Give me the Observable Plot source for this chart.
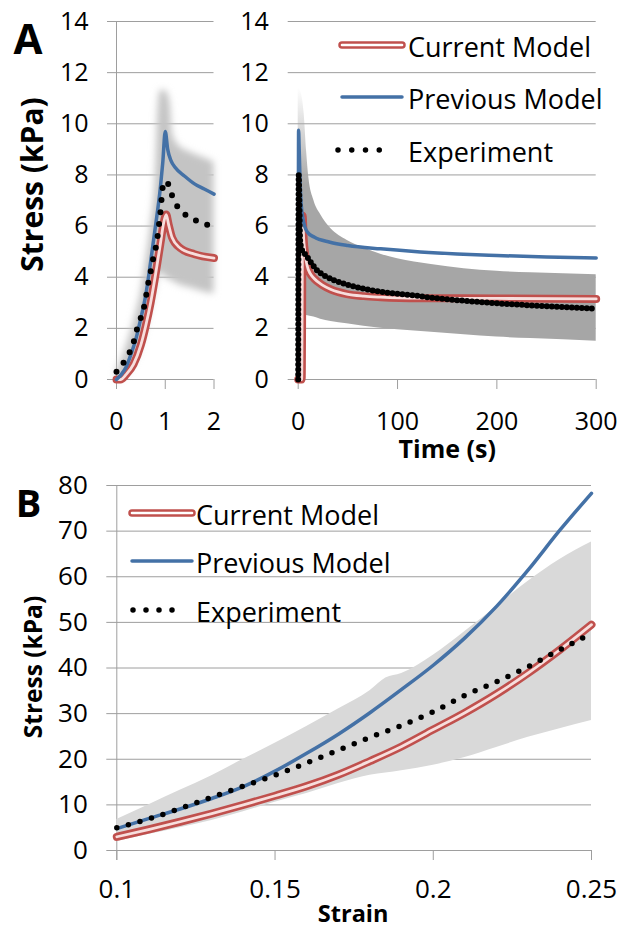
<!DOCTYPE html>
<html>
<head>
<meta charset="utf-8">
<script src="https://cdn.jsdelivr.net/npm/d3@7"></script>
<script src="https://cdn.jsdelivr.net/npm/@observablehq/plot@0.6"></script>
<style>
  html, body { margin: 0; padding: 0; background: #fff; }
  #root { position: relative; width: 621px; height: 928px; overflow: hidden; font-family: "Open Sans", sans-serif; }
  #root svg { position: absolute; max-width: none; }
</style>
</head>
<body>
<div id="root"></div>
<script>
// ---------------- DATA ----------------
const legendLabels = ["Current Model", "Previous Model", "Experiment"];

// Panel A — ramp phase (time 0–2 s): [time, stress kPa]
const rampTimeTicks = [0, 1, 2];
const stressTicksA = [0, 2, 4, 6, 8, 10, 12, 14];
const rampCurrent = [[0,0],[0.08,0],[0.2,0.2],[0.35,0.6],[0.5,1.35],[0.6,2.1],[0.7,3.0],[0.8,4.1],[0.9,5.3],[0.97,6.15],[1.02,6.45],[1.07,6.05],[1.14,5.55],[1.3,5.15],[1.6,4.9],[2,4.75]];
const rampPrevious = [[0,0],[0.1,0.2],[0.2,0.5],[0.3,1.0],[0.4,1.6],[0.5,2.4],[0.6,3.3],[0.7,4.6],[0.8,6.0],[0.9,7.5],[0.95,8.5],[1.0,9.7],[1.05,9.0],[1.12,8.55],[1.2,8.3],[1.4,7.95],[1.6,7.65],[1.8,7.45],[2.0,7.25]];
const rampExperiment = [[0,0.3],[0.05,0.35],[0.1,0.5],[0.2,0.87],[0.32,1.26],[0.42,1.97],[0.49,2.36],[0.56,2.8],[0.61,3.3],[0.66,3.86],[0.71,4.3],[0.76,4.8],[0.82,5.3],[0.85,5.7],[0.88,6.2],[0.91,6.7],[0.93,7.2],[0.97,7.7],[1.03,7.75],[1.1,7.4],[1.18,7.0],[1.32,6.6],[1.54,6.3],[1.78,6.1],[2.0,5.97]];
// experiment spread: [time, low, high]
const rampBand = [[0,0,0.3],[0.2,0.2,1.3],[0.4,0.8,2.6],[0.5,1.3,3.4],[0.6,2.0,4.6],[0.7,2.8,6.0],[0.8,3.6,8.0],[0.85,4.0,10.5],[0.9,4.2,11.3],[1.0,4.0,11.3],[1.1,3.9,10.8],[1.15,3.85,9.6],[1.3,3.7,9.1],[1.5,3.6,8.9],[1.75,3.45,8.7],[2.0,3.35,8.5]];

// Panel A — relaxation (time 0–300 s)
const relaxTimeTicks = [0, 100, 200, 300];
const relaxCurrent = [[0,0],[3.5,0],[4.5,6.4],[5.5,5.5],[7,4.9],[9,4.45],[12,4.15],[16,3.95],[24,3.7],[33,3.52],[49,3.34],[66,3.26],[83,3.22],[123,3.18],[200,3.17],[300,3.15]];
const relaxPrevious = [[0,0],[0.4,9.75],[1,9.0],[2,7.6],[3,6.85],[5,6.25],[9,5.78],[16,5.57],[32,5.37],[50,5.24],[83,5.11],[123,4.99],[160,4.91],[200,4.85],[250,4.79],[300,4.75]];
const relaxExperiment = [[0,0],[0.5,8.0],[2,5.4],[4,5.05],[7.4,4.88],[12.4,4.6],[19,4.27],[26,4.07],[36,3.88],[49,3.71],[66,3.55],[83,3.43],[100,3.35],[116,3.29],[134,3.2],[167,3.08],[200,2.98],[234,2.9],[268,2.83],[300,2.77]];
const relaxBand = [[0,2.62,11.4],[3,2.58,11.2],[6,2.54,10.4],[8.5,2.5,8.9],[10.7,2.48,7.9],[15.8,2.44,7.0],[22.5,2.36,6.45],[33,2.27,5.9],[49,2.18,5.45],[66,2.08,5.15],[83,2.0,4.9],[100,1.95,4.72],[134,1.85,4.5],[167,1.75,4.33],[200,1.66,4.23],[234,1.6,4.17],[300,1.5,4.1]];

// Panel B — stress vs strain
const strainTicks = [0.1, 0.15, 0.2, 0.25];
const stressTicksB = [0, 10, 20, 30, 40, 50, 60, 70, 80];
const strainCurrent = [[0.1,3.0],[0.11,4.6],[0.12,6.3],[0.13,8.1],[0.14,10.0],[0.15,12.0],[0.16,14.1],[0.17,16.6],[0.18,19.6],[0.19,22.8],[0.2,26.5],[0.21,30.2],[0.22,34.3],[0.23,38.9],[0.24,44.0],[0.25,49.5]];
const strainPrevious = [[0.1,4.8],[0.11,7.0],[0.12,9.1],[0.13,11.4],[0.14,14.0],[0.15,17.4],[0.16,21.3],[0.17,25.5],[0.18,30.2],[0.19,35.3],[0.2,40.6],[0.21,46.6],[0.22,53.5],[0.23,61.5],[0.24,70.2],[0.25,78.3]];
const strainExperiment = [[0.1,5.0],[0.11,6.9],[0.12,9.2],[0.13,11.7],[0.14,14.1],[0.15,16.5],[0.16,19.2],[0.17,22.0],[0.18,24.8],[0.19,27.4],[0.2,30.4],[0.21,34.0],[0.22,37.0],[0.23,40.3],[0.24,44.0],[0.25,47.6]];
const strainBand = [[0.1,2.0,6.8],[0.11,3.5,10.0],[0.12,5.0,13.2],[0.13,6.6,16.4],[0.14,8.5,20.0],[0.15,10.6,23.5],[0.16,12.5,27.2],[0.17,14.7,31.0],[0.18,16.5,35.0],[0.185,17.0,37.8],[0.19,17.5,38.8],[0.2,18.7,42.8],[0.21,20.4,48.0],[0.22,22.6,53.5],[0.23,24.8,59.0],[0.24,26.7,63.8],[0.25,28.5,67.6]];

// ---------------- STYLE ----------------
const FONT = '"Open Sans", sans-serif';
const RED = "#c0504d", PINK = "#f7dedd", BLUE = "#4471a6", GRID = "#9e9e9e";
const BAND_RAMP = "#c4c4c4", BAND_RELAX = "#a6a6a6", BAND_B = "#d9d9d9";
const curve = "monotone-x";
const X = d => d[0], Y = d => d[1];

function seriesMarks(current, previous, experiment, band, bandFill, dash, dotW) {
  return [
    Plot.areaY(band, {x: X, y1: d => d[1], y2: d => d[2], fill: bandFill, curve}),
    Plot.line(current, {x: X, y: Y, stroke: RED, strokeWidth: 8, curve}),
    Plot.line(current, {x: X, y: Y, stroke: PINK, strokeWidth: 2.8, curve}),
    Plot.line(previous, {x: X, y: Y, stroke: BLUE, strokeWidth: 3.5, curve}),
    Plot.line(experiment, {x: X, y: Y, stroke: "#000", strokeWidth: dotW, strokeLinecap: "round", strokeDasharray: dash, curve})
  ];
}
function gridMarks(yTicks, xTicks, yInset) {
  return [
    Plot.ruleY(yTicks, {y: d => d, stroke: GRID, strokeWidth: 1, insetLeft: -yInset}),
    Plot.ruleX(xTicks, {x: d => d, y1: () => 0, y2: () => 0, stroke: GRID, strokeWidth: 1, insetBottom: -10})
  ];
}
function yLabels(ticks, dx, size) {
  return Plot.text(ticks, {y: d => d, text: d => String(d), frameAnchor: "left", dx, textAnchor: "end", lineAnchor: "middle", fontSize: size, fill: "#000", fontFamily: FONT});
}
function xLabels(ticks, dy, size) {
  return Plot.text(ticks, {x: d => d, text: d => String(d), frameAnchor: "bottom", dy, textAnchor: "middle", lineAnchor: "middle", fontSize: size, fill: "#000", fontFamily: FONT});
}
function title(label, opts) {
  return Plot.text([label], {text: d => d, textAnchor: "middle", lineAnchor: "middle", fontWeight: "bold", fill: "#000", fontFamily: FONT, ...opts});
}
const baseStyle = {fontFamily: FONT, background: "transparent", overflow: "visible"};

// ---------------- PANEL A left (ramp) ----------------
const plotA1 = Plot.plot({
  width: 230, height: 460,
  marginLeft: 116, marginRight: 16.5, marginTop: 21, marginBottom: 81,
  x: {domain: [0, 2], axis: null},
  y: {domain: [0, 14], axis: null},
  style: baseStyle,
  marks: [
    ...gridMarks(stressTicksA, rampTimeTicks, 9),
    Plot.ruleX([0], {x: d => d, stroke: GRID, strokeWidth: 1, insetBottom: -10}),
    ...seriesMarks(rampCurrent, rampPrevious, rampExperiment, rampBand, BAND_RAMP, "0 12", 6),
    yLabels(stressTicksA, -28, 25),
    xLabels(rampTimeTicks, 42, 25),
    title("Stress (kPa)", {frameAnchor: "left", dx: -83, dy: -16, rotate: -90, fontSize: 30}),
    Plot.text(["A"], {frameAnchor: "top-left", dx: -103, dy: 32, lineAnchor: "bottom", textAnchor: "start", text: d => d, fontSize: 42, fontWeight: "bold", fill: "#000", fontFamily: FONT})
  ]
});
plotA1.style.left = "0px"; plotA1.style.top = "0px";

// ---------------- PANEL A right (relaxation) ----------------
const plotA2 = Plot.plot({
  width: 391, height: 460,
  marginLeft: 67.7, marginRight: 25.3, marginTop: 21, marginBottom: 81,
  x: {domain: [0, 300], axis: null},
  y: {domain: [0, 14], axis: null},
  style: baseStyle,
  marks: [
    ...gridMarks(stressTicksA, relaxTimeTicks, 10),
    ...seriesMarks(relaxCurrent, relaxPrevious, relaxExperiment, relaxBand, BAND_RELAX, "0 5", 6),
    yLabels(stressTicksA, -29.4, 25),
    xLabels(relaxTimeTicks, 42, 25),
    title("Time (s)", {frameAnchor: "bottom", dy: 70, fontSize: 25})
  ]
});
plotA2.style.left = "230px"; plotA2.style.top = "0px";

// ---------------- PANEL B ----------------
const plotB = Plot.plot({
  width: 621, height: 468,
  marginLeft: 116.3, marginRight: 30, marginTop: 25, marginBottom: 78,
  x: {domain: [0.1, 0.25], axis: null},
  y: {domain: [0, 80], axis: null},
  style: baseStyle,
  marks: [
    ...gridMarks(stressTicksB, strainTicks, 10),
    Plot.ruleX([0.1], {x: d => d, stroke: GRID, strokeWidth: 1, insetBottom: -10}),
    ...seriesMarks(strainCurrent, strainPrevious, strainExperiment, strainBand, BAND_B, "0 12", 5.5),
    yLabels(stressTicksB, -29, 26),
    xLabels(strainTicks, 39, 26),
    title("Stress (kPa)", {frameAnchor: "left", dx: -83, dy: -1, rotate: -90, fontSize: 24.5}),
    title("Strain", {frameAnchor: "bottom", dy: 64, dx: -1, fontSize: 23.5}),
    Plot.text(["B"], {frameAnchor: "top-left", dx: -101, dy: 31.7, lineAnchor: "bottom", textAnchor: "start", text: d => d, fontSize: 38, fontWeight: "bold", fill: "#000", fontFamily: FONT})
  ]
});
plotB.style.left = "0px"; plotB.style.top = "460px";

const root = document.getElementById("root");
root.appendChild(plotA1);
root.appendChild(plotA2);
root.appendChild(plotB);

// soft edges of the ramp-phase spread
{
  const s = d3.select(plotA1);
  s.insert("defs", ":first-child").append("filter").attr("id", "rampBlur")
    .attr("x", "-30%").attr("y", "-30%").attr("width", "160%").attr("height", "160%")
    .append("feGaussianBlur").attr("stdDeviation", 3.5);
  s.selectAll('g[aria-label="area"]').attr("filter", "url(#rampBlur)");
}
// fading top of the relaxation spread
{
  const s = d3.select(plotA2);
  const yR = plotA2.scale("y");
  const g = s.insert("defs", ":first-child").append("linearGradient").attr("id", "relaxFade")
    .attr("gradientUnits", "userSpaceOnUse").attr("x1", 0).attr("x2", 0)
    .attr("y1", yR.apply(11.4)).attr("y2", yR.apply(7.6));
  g.append("stop").attr("offset", 0).attr("stop-color", BAND_RELAX).attr("stop-opacity", 0);
  g.append("stop").attr("offset", 1).attr("stop-color", BAND_RELAX).attr("stop-opacity", 1);
  s.selectAll('g[aria-label="area"]').attr("fill", "url(#relaxFade)");
  s.selectAll('g[aria-label="area"] path').attr("fill", "url(#relaxFade)");
}

// ---------------- LEGENDS ----------------
const leg = d3.select(root).append("svg").attr("width", 621).attr("height", 928)
  .style("left", "0px").style("top", "0px").style("font-family", FONT);
function legend(x0, x1, dot0, dot1, tx, ys) {
  ys.forEach((y, i) => {
    if (i === 0) {
      leg.append("line").attr("x1", x0).attr("x2", x1).attr("y1", y).attr("y2", y)
        .attr("stroke", RED).attr("stroke-width", 7.5).attr("stroke-linecap", "round");
      leg.append("line").attr("x1", x0).attr("x2", x1).attr("y1", y).attr("y2", y)
        .attr("stroke", "#fff").attr("stroke-width", 2.6).attr("stroke-linecap", "round");
    } else if (i === 1) {
      leg.append("line").attr("x1", x0).attr("x2", x1).attr("y1", y).attr("y2", y)
        .attr("stroke", BLUE).attr("stroke-width", 3.5).attr("stroke-linecap", "round");
    } else {
      leg.append("line").attr("x1", dot0).attr("x2", dot1).attr("y1", y).attr("y2", y)
        .attr("stroke", "#000").attr("stroke-width", 5.5).attr("stroke-linecap", "round")
        .attr("stroke-dasharray", `0 ${(dot1 - dot0) / 4}`);
    }
    leg.append("text").attr("x", tx).attr("y", y + 2).attr("dy", "0.357em")
      .attr("font-size", 27).attr("fill", "#000").text(legendLabels[i]);
  });
}
legend(342, 402, 338, 393, 408, [45, 97, 150]);
legend(132, 192, 133, 185, 196, [513, 561, 610]);
</script>
</body>
</html>
